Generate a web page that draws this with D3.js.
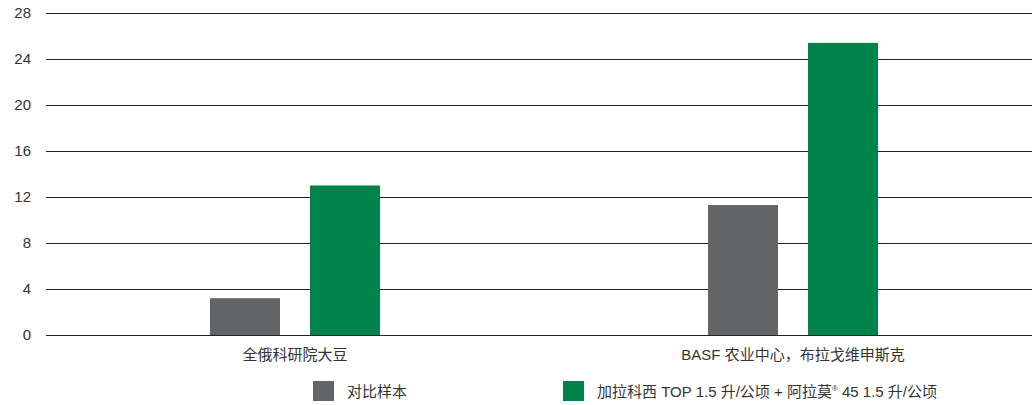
<!DOCTYPE html>
<html>
<head>
<meta charset="utf-8">
<script src="https://cdn.jsdelivr.net/npm/d3@7"></script>
<style>
  html, body { margin: 0; padding: 0; background: #fff; }
  svg text { font-family: "Liberation Sans", "Noto Sans CJK SC", sans-serif; fill: #333; }
</style>
</head>
<body>
<svg id="chart" width="1032" height="405"></svg>
<script>
// data
const sites = ["全俄科研院大豆", "BASF 农业中心，布拉戈维申斯克"];
const seriesNames = ["对比样本", "加拉科西 TOP 1.5 升/公顷 + 阿拉莫® 45 1.5 升/公顷"];
const controlValues = [3.2, 11.3];
const treatedValues = [13.0, 25.4];
const yTicks = [0, 4, 8, 12, 16, 20, 24, 28];

const grayclr = "#636466";
const greenclr = "#00834a";
const colors = [grayclr, greenclr];

const svg = d3.select("#chart");
const W = 1032, H = 405;
const m = {left: 46, right: -10, top: 13, bottom: 70};

let y = d3.scaleLinear().domain([0, 28]).range([335, 13]);
let x0 = d3.scaleBand().domain(sites).range([m.left, W - m.right]);
let x1 = d3.scaleBand().domain([0, 1]).range([x0.bandwidth()/2 - 85, x0.bandwidth()/2 + 85]).paddingInner(0.3);

// gridlines + tick labels
const yAxis = d3.axisLeft(y).tickValues(yTicks).tickSize(-(W - m.left));
const gy = svg.append("g").attr("transform", `translate(${m.left},0)`).call(yAxis);
gy.select(".domain").remove();
gy.selectAll(".tick line").attr("stroke", "#222").attr("stroke-width", 1);
gy.selectAll(".tick text").attr("font-size", 15).attr("text-anchor", "end").attr("x", -15).attr("dy", "0.3em");

// bars
const rows = sites.map((s, i) => ({site: s, vals: [controlValues[i], treatedValues[i]]}));
const groups = svg.append("g").selectAll("g").data(rows).join("g")
  .attr("transform", d => `translate(${x0(d.site)},0)`);
groups.selectAll("rect").data(d => d.vals).join("rect")
  .attr("x", (d, j) => x1(j))
  .attr("width", x1.bandwidth())
  .attr("y", d => y(d))
  .attr("height", d => y(0) - y(d))
  .attr("fill", (d, j) => colors[j]);

// category labels
const xAxis = d3.axisBottom(x0).tickSize(0).tickPadding(14);
const gx = svg.append("g").attr("transform", `translate(0,${y(0)})`).call(xAxis);
gx.select(".domain").remove();
gx.selectAll(".tick text").attr("font-size", 15);

// legend
const legendX = [313, 563];
const lg = svg.append("g").selectAll("g").data(seriesNames).join("g")
  .attr("transform", (d, i) => `translate(${legendX[i]},381)`);
lg.append("rect").attr("width", 21).attr("height", 20).attr("fill", (d, i) => colors[i]);
lg.append("text").attr("x", 34).attr("y", 16).attr("font-size", 15)
  .each(function(d) {
    const t = d3.select(this);
    const parts = d.split("®");
    t.append("tspan").text(parts[0]);
    if (parts.length > 1) {
      t.append("tspan").attr("font-size", 8).attr("dy", -6).text("®");
      t.append("tspan").attr("dy", 6).text(parts[1]);
    }
  });
</script>
</body>
</html>
